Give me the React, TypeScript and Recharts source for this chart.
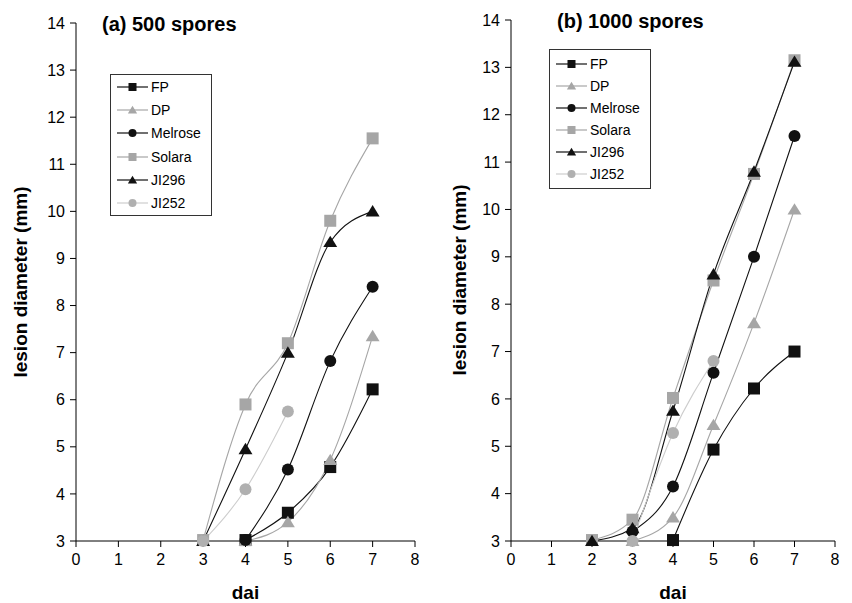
import { LineChart, Line, XAxis, YAxis } from 'recharts';

// panel (a) 500 spores
const daiA = [3, 4, 5, 6, 7];
const fpA = [null, 3.02, 3.6, 4.57, 6.22];
const dpA = [null, 3.0, 3.4, 4.72, 7.35];
const melroseA = [null, 3.02, 4.52, 6.82, 8.4];
const solaraA = [3.02, 5.9, 7.2, 9.8, 11.55];
const ji296A = [3.0, 4.95, 7.0, 9.35, 10.0];
const ji252A = [3.0, 4.1, 5.75, null, null];

// panel (b) 1000 spores
const daiB = [2, 3, 4, 5, 6, 7];
const fpB = [null, null, 3.02, 4.93, 6.22, 7.0];
const dpB = [null, 3.0, 3.5, 5.45, 7.6, 10.0];
const melroseB = [null, 3.2, 4.15, 6.55, 9.0, 11.55];
const solaraB = [3.02, 3.45, 6.02, 8.5, 10.75, 13.15];
const ji296B = [3.0, 3.27, 5.75, 8.63, 10.8, 13.12];
const ji252B = [null, 3.0, 5.28, 6.8, null, null];

const xTicks = [0, 1, 2, 3, 4, 5, 6, 7, 8];
const yTicks = [3, 4, 5, 6, 7, 8, 9, 10, 11, 12, 13, 14];

const FONT = '"Liberation Sans", Arial, sans-serif';

const series = [
    { key: 'FP', fill: '#111', stroke: '#111', shape: 'square' },
    { key: 'DP', fill: '#a6a6a6', stroke: '#a6a6a6', shape: 'triangle' },
    { key: 'Melrose', fill: '#111', stroke: '#111', shape: 'circle' },
    { key: 'Solara', fill: '#a6a6a6', stroke: '#a6a6a6', shape: 'square' },
    { key: 'JI296', fill: '#111', stroke: '#111', shape: 'triangle' },
    { key: 'JI252', fill: '#b0b0b0', stroke: '#cdcdcd', shape: 'circle' },
];

const build = (dai: number[], cols: (number | null)[][]) =>
    dai.map((d, i) => {
        const row: any = { dai: d };
        series.forEach((s, j) => { row[s.key] = cols[j][i]; });
        return row;
    });

const dataA = build(daiA, [fpA, dpA, melroseA, solaraA, ji296A, ji252A]);
const dataB = build(daiB, [fpB, dpB, melroseB, solaraB, ji296B, ji252B]);

const Marker = ({ cx, cy, shape, fill, size }: any) => {
    if (cx == null || cy == null || isNaN(cx) || isNaN(cy)) return <g />;
    const h = size / 2;
    if (shape === 'square') return <rect x={cx - h} y={cy - h} width={size} height={size} fill={fill} />;
    if (shape === 'circle') return <circle cx={cx} cy={cy} r={h} fill={fill} />;
    const w = size * 0.58;
    return <polygon points={`${cx},${cy - h * 1.05} ${cx + w},${cy + h * 0.85} ${cx - w},${cy + h * 0.85}`} fill={fill} />;
};

const LegendBox = ({ left, top, rowH, padY }: { left: number; top: number; rowH: number; padY: number }) => (
    <div style={{
        position: 'absolute', left, top, border: '1px solid #333', background: '#fff',
        padding: `${padY}px 10px ${padY}px 6px`, fontFamily: FONT, fontSize: 14,
    }}>
        {series.map((s) => (
            <div key={s.key} style={{ display: 'flex', alignItems: 'center', height: rowH }}>
                <svg width={31} height={12} style={{ marginRight: 3 }}>
                    <line x1={0} y1={6} x2={31} y2={6} stroke={s.stroke} strokeWidth={1.2} />
                    <Marker cx={15.5} cy={6} shape={s.shape} fill={s.fill} size={8} />
                </svg>
                <span>{s.key}</span>
            </div>
        ))}
    </div>
);

const Panel = ({ data, left, top, width, height, marginTop, marginRight, xHeight }: any) => (
    <div style={{ position: 'absolute', left, top }}>
        <LineChart width={width} height={height} data={data}
            margin={{ top: marginTop, right: marginRight, bottom: 0, left: 0 }}>
            <XAxis dataKey="dai" type="number" domain={[0, 8]} ticks={xTicks} interval={0}
                height={xHeight} stroke="#000" tickSize={6} tickMargin={7}
                tick={{ fill: '#000', fontSize: 16, fontFamily: FONT }}
                label={{ value: 'dai', position: 'insideBottom', offset: 4, fill: '#000', fontSize: 19, fontWeight: 'bold', fontFamily: FONT }} />
            <YAxis type="number" domain={[3, 14]} ticks={yTicks} interval={0} width={76}
                stroke="#000" tickSize={6} tickMargin={5}
                tick={{ fill: '#000', fontSize: 16, fontFamily: FONT }} />
            {series.map((s) => (
                <Line key={s.key} dataKey={s.key} type="monotone" stroke={s.stroke} strokeWidth={1.1}
                    isAnimationActive={false} connectNulls={false}
                    dot={(p: any) => <Marker key={`${s.key}-${p.index}`} cx={p.cx} cy={p.cy} shape={s.shape} fill={s.fill} size={12} />}
                    activeDot={false} />
            ))}
        </LineChart>
    </div>
);

const yLabel = (cx: number, cy: number) => (
    <div style={{
        position: 'absolute', left: cx, top: cy, transform: 'translate(-50%, -50%) rotate(-90deg)',
        whiteSpace: 'nowrap', fontFamily: FONT, fontWeight: 'bold', fontSize: 19,
    }}>lesion diameter (mm)</div>
);

const App = () => (
    <div style={{ position: 'absolute', left: 0, top: 0, width: 852, height: 603, background: '#fff', overflow: 'hidden' }}>
        <Panel data={dataA} left={0} top={0} width={430} height={603} marginTop={23} marginRight={15} xHeight={62} />
        <Panel data={dataB} left={435} top={0} width={417} height={603} marginTop={20} marginRight={17} xHeight={62} />
        {yLabel(21, 282)}
        {yLabel(460, 280)}
        <div style={{ position: 'absolute', left: 102, top: 13, fontFamily: FONT, fontWeight: 'bold', fontSize: 20 }}>(a) 500 spores</div>
        <div style={{ position: 'absolute', left: 557, top: 10, fontFamily: FONT, fontWeight: 'bold', fontSize: 20 }}>(b) 1000 spores</div>
        <LegendBox left={110} top={74} rowH={23.3} padY={0} />
        <LegendBox left={549} top={49} rowH={22} padY={3} />
    </div>
);

export default App;
